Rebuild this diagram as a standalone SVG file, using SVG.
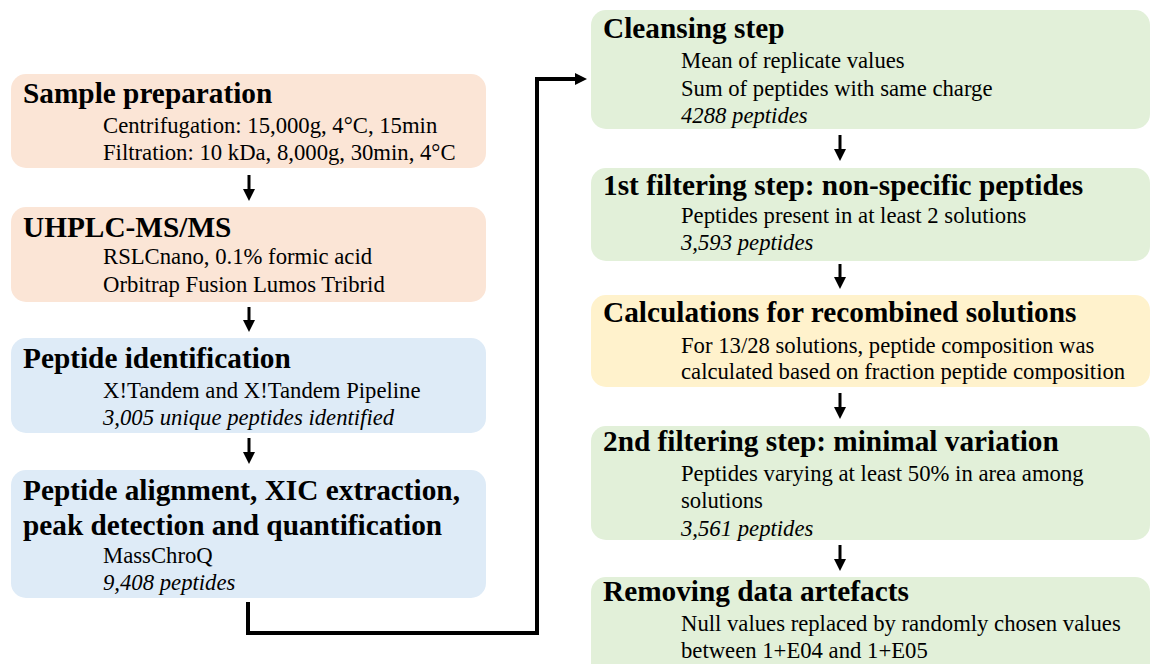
<svg xmlns="http://www.w3.org/2000/svg" width="1150" height="664" viewBox="0 0 1150 664">
<style>
.t{font-family:"Liberation Serif","Times New Roman",serif;font-weight:bold;font-size:29.3px;fill:#000}
.s{font-family:"Liberation Serif","Times New Roman",serif;font-size:22.7px;fill:#000}
.i{font-style:italic}
.peach{fill:#FBE5D6}.blue{fill:#DEEBF7}.green{fill:#E2F0D9}.yellow{fill:#FFF2CC}
.arr{stroke:#000;stroke-width:3;fill:none}
.con{stroke:#000;stroke-width:4;fill:none}
</style>
<defs>
<marker id="ah" markerWidth="4" markerHeight="4" refX="1" refY="2" orient="auto" markerUnits="strokeWidth">
<path d="M0,0 L4,2 L0,4 Z" fill="#000"/>
</marker>
<marker id="ahr" markerWidth="3" markerHeight="3" refX="0.5" refY="1.5" orient="auto" markerUnits="strokeWidth">
<path d="M0,0 L3,1.5 L0,3 Z" fill="#000"/>
</marker>
</defs>
<g id="sample-preparation">
<rect class="peach" x="11" y="74" width="475" height="94" rx="15"/>
<text class="t" x="23" y="103">Sample preparation</text>
<text class="s" x="103" y="133">Centrifugation: 15,000g, 4°C, 15min</text>
<text class="s" x="103" y="160">Filtration: 10 kDa, 8,000g, 30min, 4°C</text>
</g>
<g id="uhplc">
<rect class="peach" x="11" y="207" width="475" height="95" rx="15"/>
<text class="t" x="23" y="237">UHPLC-MS/MS</text>
<text class="s" x="103" y="264">RSLCnano, 0.1% formic acid</text>
<text class="s" x="103" y="292">Orbitrap Fusion Lumos Tribrid</text>
</g>
<g id="peptide-identification">
<rect class="blue" x="11" y="338" width="475" height="95" rx="15"/>
<text class="t" x="23" y="368">Peptide identification</text>
<text class="s" x="103" y="398">X!Tandem and X!Tandem Pipeline</text>
<text class="s i" x="103" y="425">3,005 unique peptides identified</text>
</g>
<g id="peptide-alignment">
<rect class="blue" x="11" y="470" width="475" height="128" rx="15"/>
<text class="t" x="23" y="500">Peptide alignment, XIC extraction,</text>
<text class="t" x="23" y="535">peak detection and quantification</text>
<text class="s" x="103" y="563">MassChroQ</text>
<text class="s i" x="103" y="590">9,408 peptides</text>
</g>
<g id="cleansing">
<rect class="green" x="591" y="10" width="559" height="119" rx="15"/>
<text class="t" x="603" y="38">Cleansing step</text>
<text class="s" x="681" y="68">Mean of replicate values</text>
<text class="s" x="681" y="96">Sum of peptides with same charge</text>
<text class="s i" x="681" y="123">4288 peptides</text>
</g>
<g id="filter1">
<rect class="green" x="591" y="168" width="559" height="93" rx="15"/>
<text class="t" x="603" y="195">1st filtering step: non-specific peptides</text>
<text class="s" x="681" y="223">Peptides present in at least 2 solutions</text>
<text class="s i" x="681" y="250">3,593 peptides</text>
</g>
<g id="calculations">
<rect class="yellow" x="591" y="295" width="559" height="92" rx="15"/>
<text class="t" x="603" y="322">Calculations for recombined solutions</text>
<text class="s" x="681" y="353">For 13/28 solutions, peptide composition was</text>
<text class="s" x="681" y="379">calculated based on fraction peptide composition</text>
</g>
<g id="filter2">
<rect class="green" x="591" y="426" width="559" height="114" rx="15"/>
<text class="t" x="603" y="451">2nd filtering step: minimal variation</text>
<text class="s" x="681" y="481">Peptides varying at least 50% in area among</text>
<text class="s" x="681" y="508">solutions</text>
<text class="s i" x="681" y="536">3,561 peptides</text>
</g>
<g id="removing">
<rect class="green" x="591" y="577" width="559" height="110" rx="15"/>
<text class="t" x="603" y="601">Removing data artefacts</text>
<text class="s" x="681" y="631">Null values replaced by randomly chosen values</text>
<text class="s" x="681" y="658">between 1+E04 and 1+E05</text>
</g>
<g id="connectors">
<line class="arr" x1="249" y1="175" x2="249" y2="192" marker-end="url(#ah)"/>
<line class="arr" x1="249" y1="307" x2="249" y2="323" marker-end="url(#ah)"/>
<line class="arr" x1="249" y1="438" x2="249" y2="455" marker-end="url(#ah)"/>
<line class="arr" x1="840" y1="135" x2="840" y2="152" marker-end="url(#ah)"/>
<line class="arr" x1="840" y1="264" x2="840" y2="280" marker-end="url(#ah)"/>
<line class="arr" x1="840" y1="393" x2="840" y2="410" marker-end="url(#ah)"/>
<line class="arr" x1="840" y1="545" x2="840" y2="562" marker-end="url(#ah)"/>
<path class="con" d="M248,602 V633 H537 V79 H577" marker-end="url(#ahr)"/>
</g>
</svg>
